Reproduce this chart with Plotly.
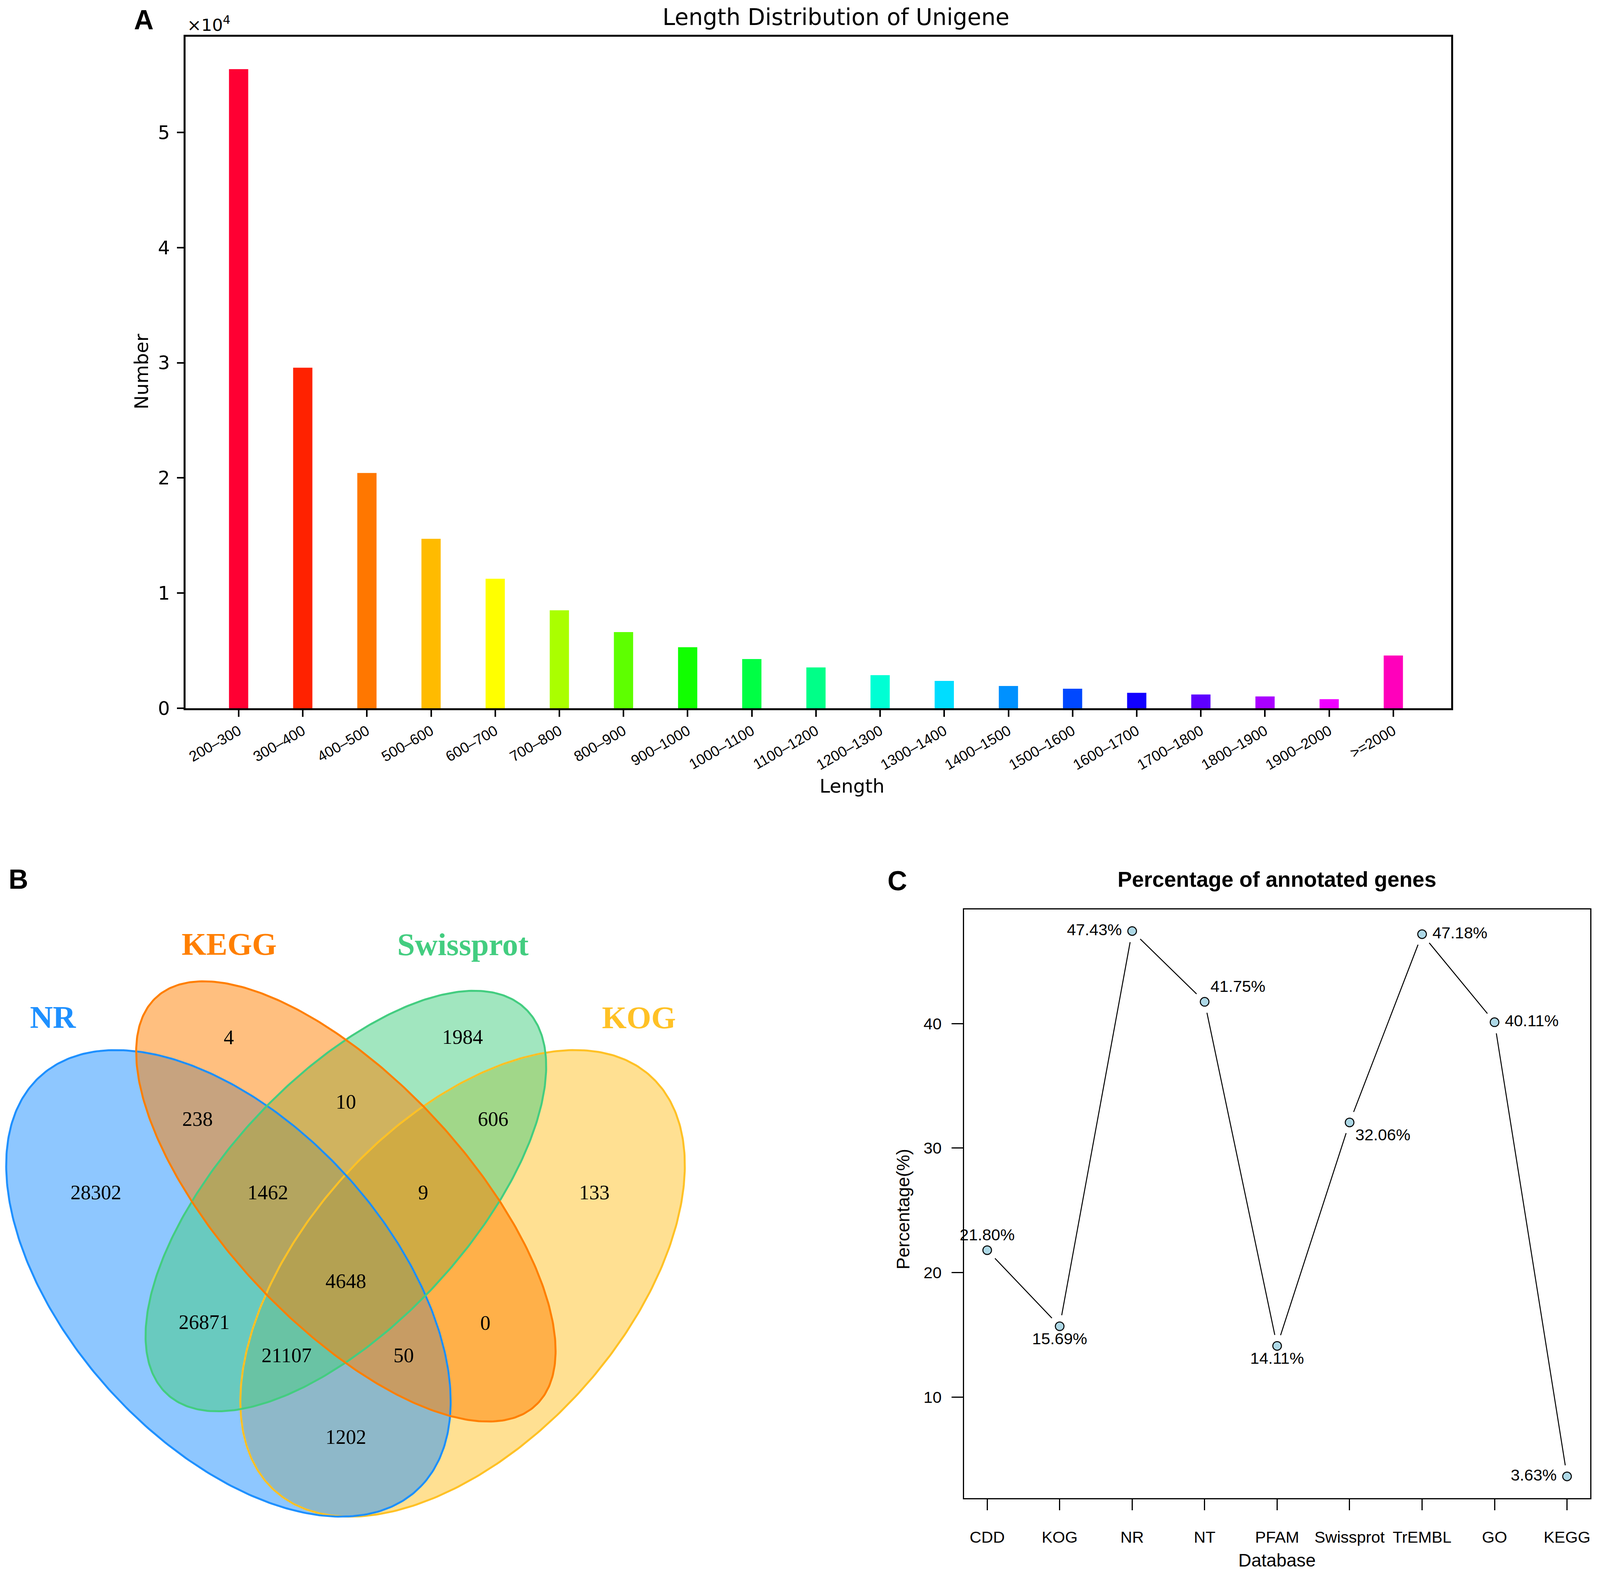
import numpy as np
import plotly.graph_objects as go

# layout is designed in reference pixels, placed as fractions of the page
REF_W, REF_H = 4328, 4065
FIG_W, FIG_H = 4080, 4049
FS = 0.965  # font/marker scale

# ---- panel A: length distribution of unigenes
length_bins = ["200–300", "300–400", "400–500", "500–600", "600–700", "700–800",
               "800–900", "900–1000", "1000–1100", "1100–1200", "1200–1300",
               "1300–1400", "1400–1500", "1500–1600", "1600–1700", "1700–1800",
               "1800–1900", "1900–2000", ">=2000"]
unigene_counts = [55490, 29570, 20430, 14720, 11250, 8510, 6620, 5310, 4280, 3550,
                  2880, 2380, 1940, 1700, 1350, 1200, 1030, 800, 4590]
bar_colors = ["#FF0033", "#FF2200", "#FF7700", "#FFBB00", "#FFFF00", "#AAFF00",
              "#5EFF00", "#11FF00", "#00FF44", "#00FF88", "#00FFD4", "#00DDFF",
              "#0091FF", "#0048FF", "#1100FF", "#5E00FF", "#AA00FF", "#F000FF",
              "#FF00BB"]
y_ticks_a = [0, 10000, 20000, 30000, 40000, 50000]
y_ticktext_a = ["0", "1", "2", "3", "4", "5"]

# ---- panel B: venn diagram
venn_sets = ["NR", "KEGG", "Swissprot", "KOG"]
venn_colors = ["#1E90FF", "#FF7F00", "#43CD80", "#FFC125"]
venn_counts = [28302, 4, 1984, 133, 238, 10, 606, 1462, 9, 4648, 26871, 0, 21107, 50, 1202]

# ---- panel C: annotation percentages
databases = ["CDD", "KOG", "NR", "NT", "PFAM", "Swissprot", "TrEMBL", "GO", "KEGG"]
annot_pct = [21.80, 15.69, 47.43, 41.75, 14.11, 32.06, 47.18, 40.11, 3.63]
y_ticks_c = [10, 20, 30, 40]


def fx(x):
    return x / REF_W


def fy(y):
    return 1 - y / REF_H


def fsz(s):
    return round(s * FS, 1)


fig = go.Figure()

# A
fig.add_trace(go.Bar(x=length_bins, y=unigene_counts, width=0.3,
                     marker=dict(color=bar_colors, line=dict(width=0)),
                     xaxis="x", yaxis="y", showlegend=False))

# B: ellipses (center, semi axes, angle) in local panel pixels, y down
ell_geom = {
    "NR": (612, 1163, 741, 424, 45),
    "KEGG": (931, 951, 738, 323, 45),
    "Swissprot": (931, 950, 697, 326, -45),
    "KOG": (1248, 1163, 741, 424, -45),
}
t = np.linspace(0, 2 * np.pi, 400)


def ellipse(name):
    cx, cy, a, b, ang = ell_geom[name]
    th = np.deg2rad(ang)
    ex = cx + a * np.cos(t) * np.cos(th) - b * np.sin(t) * np.sin(th)
    ey = cy + a * np.cos(t) * np.sin(th) + b * np.sin(t) * np.cos(th)
    return ex, ey


def rgba(hexc, a):
    h = hexc.lstrip("#")
    return "rgba(%d,%d,%d,%.2f)" % (int(h[0:2], 16), int(h[2:4], 16), int(h[4:6], 16), a)


col = dict(zip(venn_sets, venn_colors))
draw_order = ["KOG", "NR", "Swissprot", "KEGG"]
for name in draw_order:
    ex, ey = ellipse(name)
    fig.add_trace(go.Scatter(x=ex, y=ey, mode="lines", fill="toself",
                             fillcolor=rgba(col[name], 0.5), line=dict(width=0),
                             xaxis="x3", yaxis="y3", showlegend=False, hoverinfo="skip"))
for name in draw_order:
    ex, ey = ellipse(name)
    fig.add_trace(go.Scatter(x=ex, y=ey, mode="lines", line=dict(color=col[name], width=5),
                             xaxis="x3", yaxis="y3", showlegend=False, hoverinfo="skip"))

region_pos = [(252, 932), (613, 531), (1248, 530), (1606, 932), (528, 742), (931, 698),
              (1331, 742), (719, 932), (1141, 932), (931, 1162), (546, 1268), (1310, 1270),
              (770, 1354), (1088, 1354), (931, 1565)]
fig.add_trace(go.Scatter(x=[p[0] for p in region_pos], y=[p[1] for p in region_pos],
                         mode="text", text=[str(v) for v in venn_counts],
                         textfont=dict(family="Liberation Serif, Times New Roman",
                                       size=fsz(54), color="black"),
                         xaxis="x3", yaxis="y3", showlegend=False, hoverinfo="skip"))

label_pos = [(135, 481), (614, 292), (1249, 293), (1727, 482)]
fig.add_trace(go.Scatter(x=[p[0] for p in label_pos], y=[p[1] for p in label_pos],
                         mode="text", text=["<b>%s</b>" % s for s in venn_sets],
                         textfont=dict(family="Liberation Serif, Times New Roman",
                                       size=fsz(84), color=venn_colors),
                         xaxis="x3", yaxis="y3", showlegend=False, hoverinfo="skip"))

# C: R style type="b" -> line segments stop short of the points
c_xrange = [-0.32, 8.32]
c_yrange = [1.88, 49.18]
xs = list(range(len(databases)))
sx = (fx(4311) - fx(2610)) * FIG_W / (c_xrange[1] - c_xrange[0])
sy = (fy(2345) - fy(3869)) * FIG_H / (c_yrange[1] - c_yrange[0])
gap = 30 * FS
seg_x, seg_y = [], []
for i in range(len(xs) - 1):
    dv = annot_pct[i + 1] - annot_pct[i]
    L = np.hypot(sx, dv * sy)
    f = gap / L
    seg_x += [xs[i] + f, xs[i + 1] - f, None]
    seg_y += [annot_pct[i] + f * dv, annot_pct[i + 1] - f * dv, None]
fig.add_trace(go.Scatter(x=seg_x, y=seg_y, mode="lines", line=dict(color="black", width=2.5),
                         xaxis="x2", yaxis="y2", showlegend=False, hoverinfo="skip"))

nb = "\u00a0"
text_pos = ["top center", "bottom center", "middle left", "top right", "bottom center",
            "bottom right", "middle right", "middle right", "middle left"]
labels_c = []
for v, p in zip(annot_pct, text_pos):
    s = "%.2f%%" % v
    if p == "middle left":
        s = s + nb
    elif p == "middle right":
        s = nb + s
    labels_c.append(s)

fig.add_trace(go.Scatter(
    x=xs, y=annot_pct, mode="markers+text", text=labels_c, textposition=text_pos,
    textfont=dict(family="Liberation Sans, Arial", size=fsz(43), color="black"),
    marker=dict(size=fsz(23), color="#ADD8E6", line=dict(color="black", width=2.5)),
    xaxis="x2", yaxis="y2", showlegend=False, cliponaxis=False))

font_a = "DejaVu Sans"
font_c = "Liberation Sans, Arial"

ann = []


def add_text(x, y, text, size, family, angle=0, xanchor="center"):
    ann.append(dict(x=fx(x), y=fy(y), xref="paper", yref="paper", text=text, showarrow=False,
                    xanchor=xanchor, yanchor="middle", textangle=angle,
                    font=dict(family=family, size=fsz(size), color="black")))


add_text(382, 43, "<b>A</b>", 72, font_c)
add_text(498, 54, "×10<sup>4</sup>", 45, font_a, xanchor="left")
add_text(2262, 36, "Length Distribution of Unigene", 60, font_a)
add_text(375, 953, "Number", 50, font_a, angle=-90)
add_text(2306, 2026, "Length", 50, font_a)
add_text(41, 2268, "<b>B</b>", 72, font_c)
add_text(2429, 2272, "<b>C</b>", 72, font_c)
add_text(3460, 2268, "<b>Percentage of annotated genes</b>", 57, font_c)
add_text(2445, 3121, "Percentage(%)", 48, font_c, angle=-90)
add_text(3460, 4030, "Database", 48, font_c)

frame = dict(showline=True, linecolor="black", mirror=True, showgrid=False, zeroline=False,
             ticks="outside", tickcolor="black")

fig.update_layout(
    width=FIG_W, height=FIG_H, margin=dict(l=0, r=0, t=0, b=0),
    paper_bgcolor="white", plot_bgcolor="white",
    annotations=ann,
    xaxis=dict(frame, domain=[fx(495), fx(3933)], anchor="y", type="category",
               range=[-0.83, 18.9], linewidth=5, ticklen=17, tickwidth=3.5, tickangle=-30,
               tickfont=dict(family=font_c, size=fsz(39), color="black")),
    yaxis=dict(frame, domain=[fy(1825), fy(87)], anchor="x", range=[0, 58300],
               tickvals=y_ticks_a, ticktext=y_ticktext_a, linewidth=5, ticklen=17,
               tickwidth=3.5, ticklabelstandoff=8,
               tickfont=dict(family=font_a, size=fsz(50), color="black")),
    xaxis2=dict(frame, domain=[fx(2610), fx(4311)], anchor="y2", range=c_xrange,
                tickvals=xs, ticktext=databases, linewidth=3, ticklen=28, tickwidth=2.5,
                ticklabelstandoff=33, tickfont=dict(family=font_c, size=fsz(43), color="black")),
    yaxis2=dict(frame, domain=[fy(3869), fy(2345)], anchor="x2", range=c_yrange,
                tickvals=y_ticks_c, linewidth=3, ticklen=29, tickwidth=2.5,
                ticklabelstandoff=17, tickfont=dict(family=font_c, size=fsz(43), color="black")),
    xaxis3=dict(domain=[0, fx(2000)], anchor="y3", range=[0, 2000], visible=False),
    yaxis3=dict(domain=[fy(4065), fy(2150)], anchor="x3", range=[1915, 0], visible=False),
)

fig.write_html("out.html")
